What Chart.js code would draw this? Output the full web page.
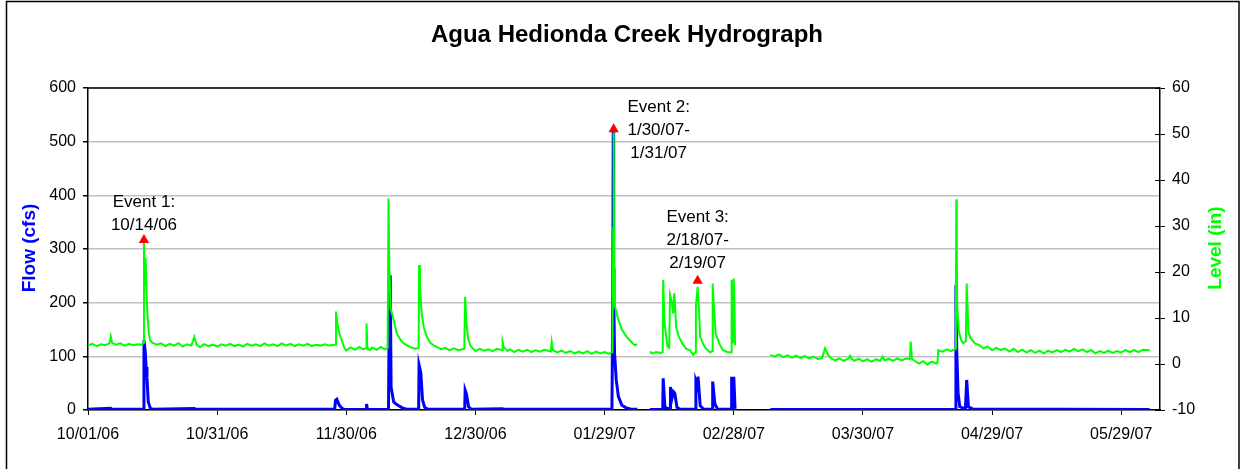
<!DOCTYPE html>
<html lang="en">
<head>
  <meta charset="UTF-8" />
  <title>Agua Hedionda Creek Hydrograph</title>
  <script src="https://cdn.jsdelivr.net/npm/chart.js"></script>
  <style>
    html, body { margin: 0; padding: 0; background: #fff; }
    canvas { display: block; }
  </style>
</head>
<body>
  <canvas id="hydro" width="1241" height="469"></canvas>

  <script>
    // days counted from 10/01/06; null = no record (gap in the logger data)
    const levelDays = [
      0, 1, 2, 3, 4, 5, 5.3, 5.6, 6.5, 7.5, 8.5, 9.5, 10.5, 11.5, 12.5, 12.9,
      13.0, 13.2, 13.4, 13.6, 13.8, 14.1, 14.4, 15, 16, 17, 18, 19, 20, 21, 22, 23, 24,
      24.7, 25.2, 26, 27, 28, 29, 30, 31, 32, 33, 34, 35, 36, 37, 38, 39, 40,
      41, 42, 43, 44, 45, 46, 47, 48, 49, 50, 51, 52, 53, 54, 55, 56, 57.4,
      57.6, 57.9, 58.4, 59, 59.5, 60, 61, 62, 63, 64, 64.6, 64.7, 64.9, 65.5, 66, 67, 68, 69, 69.6,
      69.8, 70.0, 70.3, 71.0, 71.7, 72.5, 73.2, 74, 75, 76, 76.8,
      76.9, 77.1, 77.5, 78.0, 78.7, 79.5, 80.2, 81, 82, 83, 84, 85, 86, 87.4,
      87.6, 87.9, 88.3, 88.8, 89.5, 90, 91, 92, 93, 94, 95, 96.2, 96.3, 96.6,
      97.5, 98, 99, 100, 101, 102, 103, 104, 105, 106, 107.5, 107.7, 108,
      109, 110, 111, 112, 113, 114, 115, 116, 117, 118, 119, 120, 121, 121.8,
      122.0, 122.1, 122.2, 122.4, 122.8, 123.2, 124, 125.1, 126, 126.5, 127, 127.6,
      128.5,
      130.5, 131, 132, 133, 133.5, 133.6, 133.9, 134.2, 134.6, 135.0, 135.2, 135.6, 135.9,
      136.2, 136.6, 137.2, 138.3, 139, 139.8, 140.6, 141.0, 141.2, 141.6, 141.9, 142.2,
      143, 143.5, 144.5, 145.0, 145.1, 145.4, 145.8, 146.8, 147.5, 148.5, 149.4,
      149.5, 149.8, 150.0, 150.3,
      151,
      158.5, 159.5, 160.5, 161.5, 162.5, 163.5, 164.5, 165.5, 166.5, 167.5, 168.5, 169.5,
      170.5, 171.2, 171.8, 172.5, 173.5, 174.5, 175.5, 176.5, 177.0, 177.3, 178, 179,
      180, 181, 182, 183, 184, 184.6, 185, 186, 187, 188, 189, 190, 190.9, 191.1, 191.4,
      192, 193, 194, 195, 196, 197.0, 197.3, 197.5, 198.5, 199.5, 200.5, 201.4,
      201.6, 201.7, 201.8, 201.9, 202.3, 202.8, 203.3, 203.9, 204.1, 204.3, 204.5,
      205, 206, 207, 208, 209, 210, 211, 212, 213, 214, 215, 216, 217, 218, 219, 220,
      221, 222, 223, 224, 225, 226, 227, 228, 229, 230, 231, 232, 233, 234, 235, 236,
      237, 238, 239, 240, 241, 242, 243, 244, 245, 246.6
    ];
    const levelValues = [
      4.0, 4.4, 3.9, 4.3, 4.1, 4.5, 6.0, 4.6, 4.2, 4.5, 4.0, 4.4, 4.1, 4.3, 4.2, 4.6,
      26.6, 17, 23, 15.4, 11, 7, 5.2, 4.6, 4.2, 4.5, 3.9, 4.4, 4.0, 4.5, 3.8, 4.3, 4.0,
      5.9, 4.2, 3.7, 4.3, 3.9, 4.2, 3.8, 4.3, 4.0, 4.4, 3.9, 4.2, 3.8, 4.4, 4.0, 4.3, 3.9,
      4.5, 4.0, 4.3, 3.9, 4.5, 4.0, 4.4, 3.9, 4.3, 4.0, 4.4, 3.9, 4.2, 4.0, 4.3, 4.0, 4.2,
      11.4, 9, 6.5, 5, 3.6, 2.9, 3.6, 3.1, 3.7, 3.2, 3.5, 8.8, 3.4, 3.0, 3.6, 3.1, 3.7, 3.2, 3.5,
      36.0, 21, 12, 9.6, 6.7, 5.4, 4.6, 4.1, 3.6, 3.3, 3.5,
      21.5, 17, 11, 8, 5.9, 4.6, 4.1, 3.7, 3.2, 3.5, 3.0, 3.4, 3.0, 3.3,
      14.6, 9, 5.5, 4.0, 3.3, 2.8, 3.3, 2.9, 3.2, 2.8, 3.3, 3.0, 4.8, 3.6,
      2.8, 3.2, 2.6, 3.1, 2.7, 3.1, 2.6, 3.0, 2.7, 3.1, 2.7, 4.8, 3.0,
      2.5, 2.9, 2.4, 2.8, 2.3, 2.7, 2.3, 2.8, 2.2, 2.7, 2.3, 2.6, 2.2, 2.6,
      29.6, 50.3, 21, 12.5, 11, 9.6, 7.5, 5.9, 5.0, 4.5, 4.1, 4.3,
      null,
      2.7, 2.3, 2.6, 2.4, 2.6, 18.3, 9, 6.7, 3.8, 3.5, 15, 13.5, 11,
      15.4, 8.1, 6, 4.1, 3.3, 3.0, 2.0, 2.5, 12.5, 16.8, 12, 5.9,
      4.1, 3.4, 2.5, 2.8, 17.5, 12, 6.5, 4.1, 3.0, 2.6, 2.5,
      18.3, 4.5, 18.6, 4.1,
      null,
      2.0, 1.6, 2.1, 1.5, 1.9, 1.4, 1.8, 1.3, 1.7, 1.2, 1.6, 1.1,
      1.3, 3.4, 2.2, 1.3, 0.8, 1.2, 0.7, 1.1, 1.8, 1.2, 0.7, 1.1,
      0.6, 1.0, 0.5, 1.0, 0.7, 1.6, 0.8, 1.1, 0.7, 1.2, 0.8, 1.2, 1.1, 4.9, 1.1,
      0.7, 0.1, 0.6, -0.1, 0.5, 0.1, 0.3, 3.0, 2.7, 3.2, 2.8, 3.3,
      20, 35.8, 23.7, 12.5, 7, 5.2, 4.5, 5.0, 17.5, 12, 7,
      5.6, 4.5, 4.1, 3.4, 3.8, 3.0, 3.5, 3.0, 3.4, 2.7, 3.3, 2.6, 3.1, 2.5, 3.0, 2.4,
      2.9, 2.3, 2.9, 2.5, 3.0, 2.6, 3.1, 2.7, 3.3, 2.8, 3.2, 2.6, 3.0, 2.3, 2.8, 2.4,
      2.9, 2.4, 2.8, 2.5, 3.0, 2.6, 3.0, 2.6, 3.1, 3.0
    ];

    const flowDays = [
      0, 5.3, 5.6, 12.9, 13.0, 13.3, 13.5, 13.7, 14.0, 14.5, 15, 24.7, 25,
      57.3, 57.5, 57.8, 58.3, 59, 59.5, 64.6, 64.7, 64.9,
      69.8, 70.0, 70.2, 70.4, 71, 71.7, 73, 74,
      76.8, 76.9, 77.3, 77.7, 78.2, 79, 87.5, 87.6, 87.9, 88.4, 89, 96.3, 96.5,
      121.7, 121.9, 122.0, 122.1, 122.3, 122.7, 123.2, 124, 125, 126, 127.6,
      128.5,
      130.5, 133.5, 133.6, 134.0, 135.2, 135.3, 135.6, 136.0, 136.3, 136.8, 137.5,
      141.1, 141.2, 141.5, 141.7, 142.2, 143, 145.0, 145.1, 145.6, 146.2,
      149.4, 149.5, 149.8, 150.0, 150.3,
      151,
      158.5, 197, 201.4, 201.6, 201.8, 202.1, 202.5, 203.8, 204.1, 204.5, 205.5, 246.6
    ];
    const flowValues = [
      1.5, 3, 1.5, 1.5, 130, 108, 80, 60, 15, 3, 1.5, 3, 1.2,
      1.5, 18, 20, 10, 3, 1, 1, 11, 1,
      1.5, 222, 251, 43, 15, 10, 4, 1.5,
      1.5, 84, 70, 19, 5, 1.5, 1.5, 37, 30, 6, 1.5, 2.5, 1.2,
      1.2, 217, 525, 218, 106, 56, 25, 9, 4, 2, 1.5,
      null,
      1, 1, 59, 5, 1.5, 43, 20, 34, 31, 5, 1.5,
      1.5, 53, 45, 62, 8, 1.5, 1.5, 53, 12, 2,
      1.5, 62, 2, 62, 2,
      null,
      1, 1, 1.5, 233, 106, 32, 6, 2, 56, 6, 2, 1
    ];

    const eventDays = [13.0, 122.1, 141.6];
    const eventFlow = [317, 523, 241];
    const eventLabels = [
      ["Event 1:", "10/14/06"],
      ["Event 2:", "1/30/07-", "1/31/07"],
      ["Event 3:", "2/18/07-", "2/19/07"]
    ];

    const xTicks = [0, 30, 60, 90, 120, 150, 180, 210, 240];
    const startDate = Date.UTC(2006, 9, 1);

    function dayLabel(d) {
      const dt = new Date(startDate + d * 86400000);
      const p = n => String(n).padStart(2, "0");
      return p(dt.getUTCMonth() + 1) + "/" + p(dt.getUTCDate()) + "/" + p(dt.getUTCFullYear() % 100);
    }

    const toPoints = (xs, ys) => xs.map((x, i) => ({ x: x, y: ys[i] }));

    const FONT = "'Liberation Sans', Arial, sans-serif";
    const GREEN = "#00ff00";
    const BLUE = "#0000ff";

    // where the event text sits relative to its triangle (px), first-line baseline
    const labelOffsets = [
      { dx: 0, dy: -33 },
      { dx: 45, dy: -17 },
      { dx: 0, dy: -59 }
    ];

    const decorations = {
      id: "decorations",
      afterDraw(chart) {
        const ctx = chart.ctx;
        const a = chart.chartArea;
        ctx.save();

        // outer frame
        ctx.strokeStyle = "#000";
        ctx.lineWidth = 1.5;
        ctx.strokeRect(6.5, 1.5, 1232.5, 520);

        // top edge of plot area
        ctx.beginPath();
        ctx.moveTo(a.left, a.top);
        ctx.lineTo(a.right, a.top);
        ctx.stroke();

        // inner half of right-axis tick marks
        const y2 = chart.scales.y2;
        ctx.lineWidth = 1;
        y2.ticks.forEach(t => {
          const py = Math.round(y2.getPixelForValue(t.value)) + 0.5;
          ctx.beginPath();
          ctx.moveTo(a.right - 5, py);
          ctx.lineTo(a.right, py);
          ctx.stroke();
        });

        // title
        ctx.fillStyle = "#000";
        ctx.textAlign = "center";
        ctx.textBaseline = "alphabetic";
        ctx.font = "bold 24px " + FONT;
        ctx.fillText("Agua Hedionda Creek Hydrograph", 627, 42);

        // axis titles
        ctx.font = "bold 19px " + FONT;
        ctx.textBaseline = "middle";
        ctx.fillStyle = BLUE;
        ctx.save();
        ctx.translate(30, 248);
        ctx.rotate(-Math.PI / 2);
        ctx.fillText("Flow (cfs)", 0, 0);
        ctx.restore();
        ctx.fillStyle = GREEN;
        ctx.save();
        ctx.translate(1216, 248);
        ctx.rotate(-Math.PI / 2);
        ctx.fillText("Level (in)", 0, 0);
        ctx.restore();

        // event labels
        const xs = chart.scales.x, ys = chart.scales.y;
        ctx.fillStyle = "#000";
        ctx.font = "17px " + FONT;
        ctx.textBaseline = "alphabetic";
        eventLabels.forEach((lines, i) => {
          const px = xs.getPixelForValue(eventDays[i]) + labelOffsets[i].dx;
          const py = ys.getPixelForValue(eventFlow[i]) + labelOffsets[i].dy;
          lines.forEach((txt, j) => ctx.fillText(txt, px, py + j * 23));
        });

        ctx.restore();
      }
    };

    new Chart(document.getElementById("hydro"), {
      type: "line",
      data: {
        datasets: [
          {
            label: "Events",
            type: "scatter",
            data: toPoints(eventDays, eventFlow),
            yAxisID: "y",
            pointStyle: "triangle",
            pointRadius: 6,
            pointBackgroundColor: "#ff0000",
            pointBorderColor: "#ff0000",
            pointBorderWidth: 0,
            showLine: false,
            order: 0
          },
          {
            label: "Level (in)",
            data: toPoints(levelDays, levelValues),
            yAxisID: "y2",
            borderColor: GREEN,
            borderWidth: 2,
            pointRadius: 0,
            tension: 0,
            spanGaps: false,
            order: 1
          },
          {
            label: "Flow (cfs)",
            data: toPoints(flowDays, flowValues),
            yAxisID: "y",
            borderColor: BLUE,
            borderWidth: 3,
            pointRadius: 0,
            tension: 0,
            spanGaps: false,
            order: 2
          }
        ]
      },
      options: {
        responsive: false,
        animation: false,
        events: [],
        layout: { padding: { top: 88, left: 0, right: 0, bottom: 0 } },
        plugins: {
          legend: { display: false },
          tooltip: { enabled: false },
          title: { display: false }
        },
        scales: {
          x: {
            type: "linear",
            min: 0,
            max: 249,
            afterBuildTicks: s => { s.ticks = xTicks.map(v => ({ value: v })); },
            afterFit: s => { s.height = 59; },
            border: { color: "#000", width: 1.5 },
            grid: { drawOnChartArea: false, tickLength: 5, color: "#000" },
            ticks: {
              callback: v => dayLabel(v),
              maxRotation: 0,
              autoSkip: false,
              padding: 10,
              color: "#000",
              font: { family: FONT, size: 16 }
            }
          },
          y: {
            position: "left",
            min: 0,
            max: 600,
            afterFit: s => { s.width = 88; },
            border: { color: "#000", width: 1.5 },
            grid: { color: "#c0c0c0", lineWidth: 1.5, tickColor: "#000", tickLength: 5 },
            ticks: {
              stepSize: 100,
              padding: 7,
              color: "#000",
              font: { family: FONT, size: 16 }
            }
          },
          y2: {
            position: "right",
            min: -10,
            max: 60,
            afterFit: s => { s.width = 81; },
            border: { color: "#000", width: 1.5 },
            grid: { drawOnChartArea: false, tickLength: 5, color: "#000" },
            ticks: {
              stepSize: 10,
              padding: 7,
              color: "#000",
              font: { family: FONT, size: 16 }
            }
          }
        }
      },
      plugins: [decorations]
    });
  </script>
</body>
</html>
